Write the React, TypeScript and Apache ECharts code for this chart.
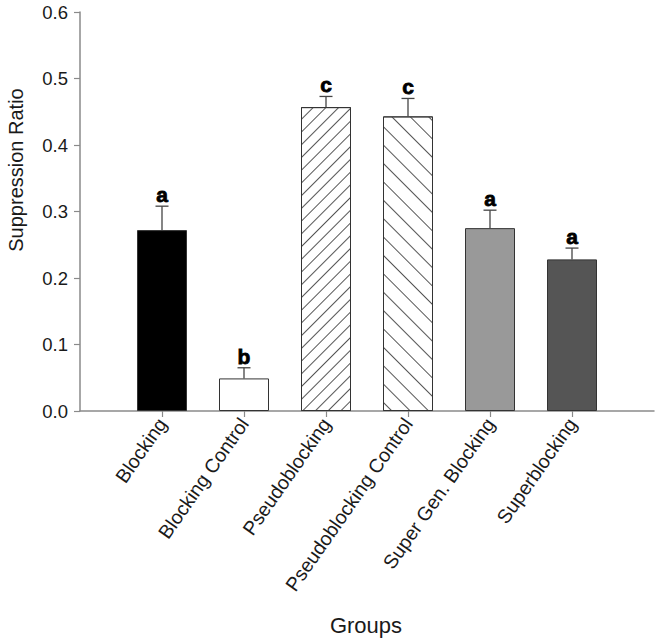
import React, { useEffect, useRef } from "react";
import * as echarts from "echarts";

const categories = [
  "Blocking",
  "Blocking Control",
  "Pseudoblocking",
  "Pseudoblocking Control",
  "Super Gen. Blocking",
  "Superblocking",
];
const means = [0.272, 0.049, 0.457, 0.443, 0.275, 0.228];
const upperErrors = [0.308, 0.065, 0.473, 0.47, 0.302, 0.245];
const letters = ["a", "b", "c", "c", "a", "a"];

const FONT = "'Liberation Sans', Arial, Helvetica, sans-serif";

const barStyles: any[] = [
  { color: "#000000" },
  { color: "#ffffff" },
  {
    color: "#ffffff",
    decal: {
      symbol: "rect",
      symbolSize: 1,
      dashArrayX: [1, 0],
      dashArrayY: [1, 7.5],
      rotation: -Math.PI / 4,
      color: "#555555",
      backgroundColor: "#ffffff",
    },
  },
  {
    color: "#ffffff",
    decal: {
      symbol: "rect",
      symbolSize: 1,
      dashArrayX: [1, 0],
      dashArrayY: [1, 12],
      rotation: Math.PI / 4,
      color: "#555555",
      backgroundColor: "#ffffff",
    },
  },
  { color: "#999999" },
  { color: "#555555" },
];

export default function App() {
  const ref = useRef<HTMLDivElement>(null);
  useEffect(() => {
    document.body.style.margin = "0";
    const chart = echarts.init(ref.current!, null, { renderer: "svg" });
    const axisCats = ["", ...categories, ""];
    const barData = axisCats.map((c, i) => {
      if (i === 0 || i === axisCats.length - 1) return "-";
      const k = i - 1;
      return {
        value: means[k],
        itemStyle: { ...barStyles[k], borderColor: "#333333", borderWidth: 1 },
      };
    });
    const errData = categories.map((c, k) => [k + 1, means[k], upperErrors[k], letters[k]]);
    chart.setOption({
      animation: false,
      backgroundColor: "#ffffff",
      grid: { left: 80, right: 4, top: 12, bottom: 232, containLabel: false },
      xAxis: {
        type: "category",
        data: axisCats,
        boundaryGap: false,
        axisLine: { lineStyle: { color: "#8a8a8a", width: 1.5 } },
        axisTick: {
          length: 6,
          interval: (i: number) => i > 0 && i < axisCats.length - 1,
          lineStyle: { color: "#8a8a8a", width: 1.2 },
        },
        axisLabel: {
          interval: (i: number) => i > 0 && i < axisCats.length - 1,
          rotate: 55,
          margin: 9,
          fontSize: 19.5,
          fontFamily: FONT,
          color: "#1a1a1a",
        },
        splitLine: { show: false },
      },
      yAxis: {
        type: "value",
        min: 0,
        max: 0.6,
        interval: 0.1,
        axisLine: { show: true, lineStyle: { color: "#8a8a8a", width: 1.5 } },
        axisTick: { show: true, length: 6, lineStyle: { color: "#8a8a8a", width: 1.2 } },
        axisLabel: {
          margin: 12,
          fontSize: 18.5,
          fontFamily: FONT,
          color: "#1a1a1a",
          formatter: (v: number) => v.toFixed(1),
        },
        splitLine: { show: false },
      },
      series: [
        {
          type: "bar",
          data: barData,
          barWidth: 50,
        },
        {
          type: "custom",
          data: errData,
          encode: { x: 0, y: [1, 2] },
          z: 5,
          renderItem: (params: any, api: any) => {
            const x = api.value(0);
            const base = api.coord([x, api.value(1)]);
            const top = api.coord([x, api.value(2)]);
            const letter = errData[params.dataIndex][3] as string;
            const stroke = { stroke: "#444444", lineWidth: 1.3 };
            return {
              type: "group",
              children: [
                {
                  type: "line",
                  shape: { x1: base[0], y1: base[1], x2: top[0], y2: top[1] },
                  style: stroke,
                },
                {
                  type: "line",
                  shape: { x1: top[0] - 6.5, y1: top[1], x2: top[0] + 6.5, y2: top[1] },
                  style: stroke,
                },
                {
                  type: "text",
                  x: top[0],
                  y: top[1] - 1,
                  style: {
                    text: letter,
                    textAlign: "center",
                    textVerticalAlign: "bottom",
                    fontSize: 21,
                    fontWeight: "bold",
                    fontFamily: FONT,
                    fill: "#000000",
                    stroke: "#000000",
                    lineWidth: 0.8,
                  },
                },
              ],
            };
          },
        },
      ],
      graphic: [
        {
          type: "text",
          x: 16,
          y: 170,
          rotation: Math.PI / 2,
          style: {
            text: "Suppression Ratio",
            textAlign: "center",
            textVerticalAlign: "middle",
            fontSize: 20,
            fontFamily: FONT,
            fill: "#1a1a1a",
          },
        },
        {
          type: "text",
          x: 366,
          y: 625,
          style: {
            text: "Groups",
            textAlign: "center",
            textVerticalAlign: "middle",
            fontSize: 22,
            fontFamily: FONT,
            fill: "#1a1a1a",
          },
        },
      ],
    });
    return () => chart.dispose();
  }, []);
  return <div ref={ref} style={{ width: 658, height: 643, position: "absolute", left: 0, top: 0 }} />;
}
